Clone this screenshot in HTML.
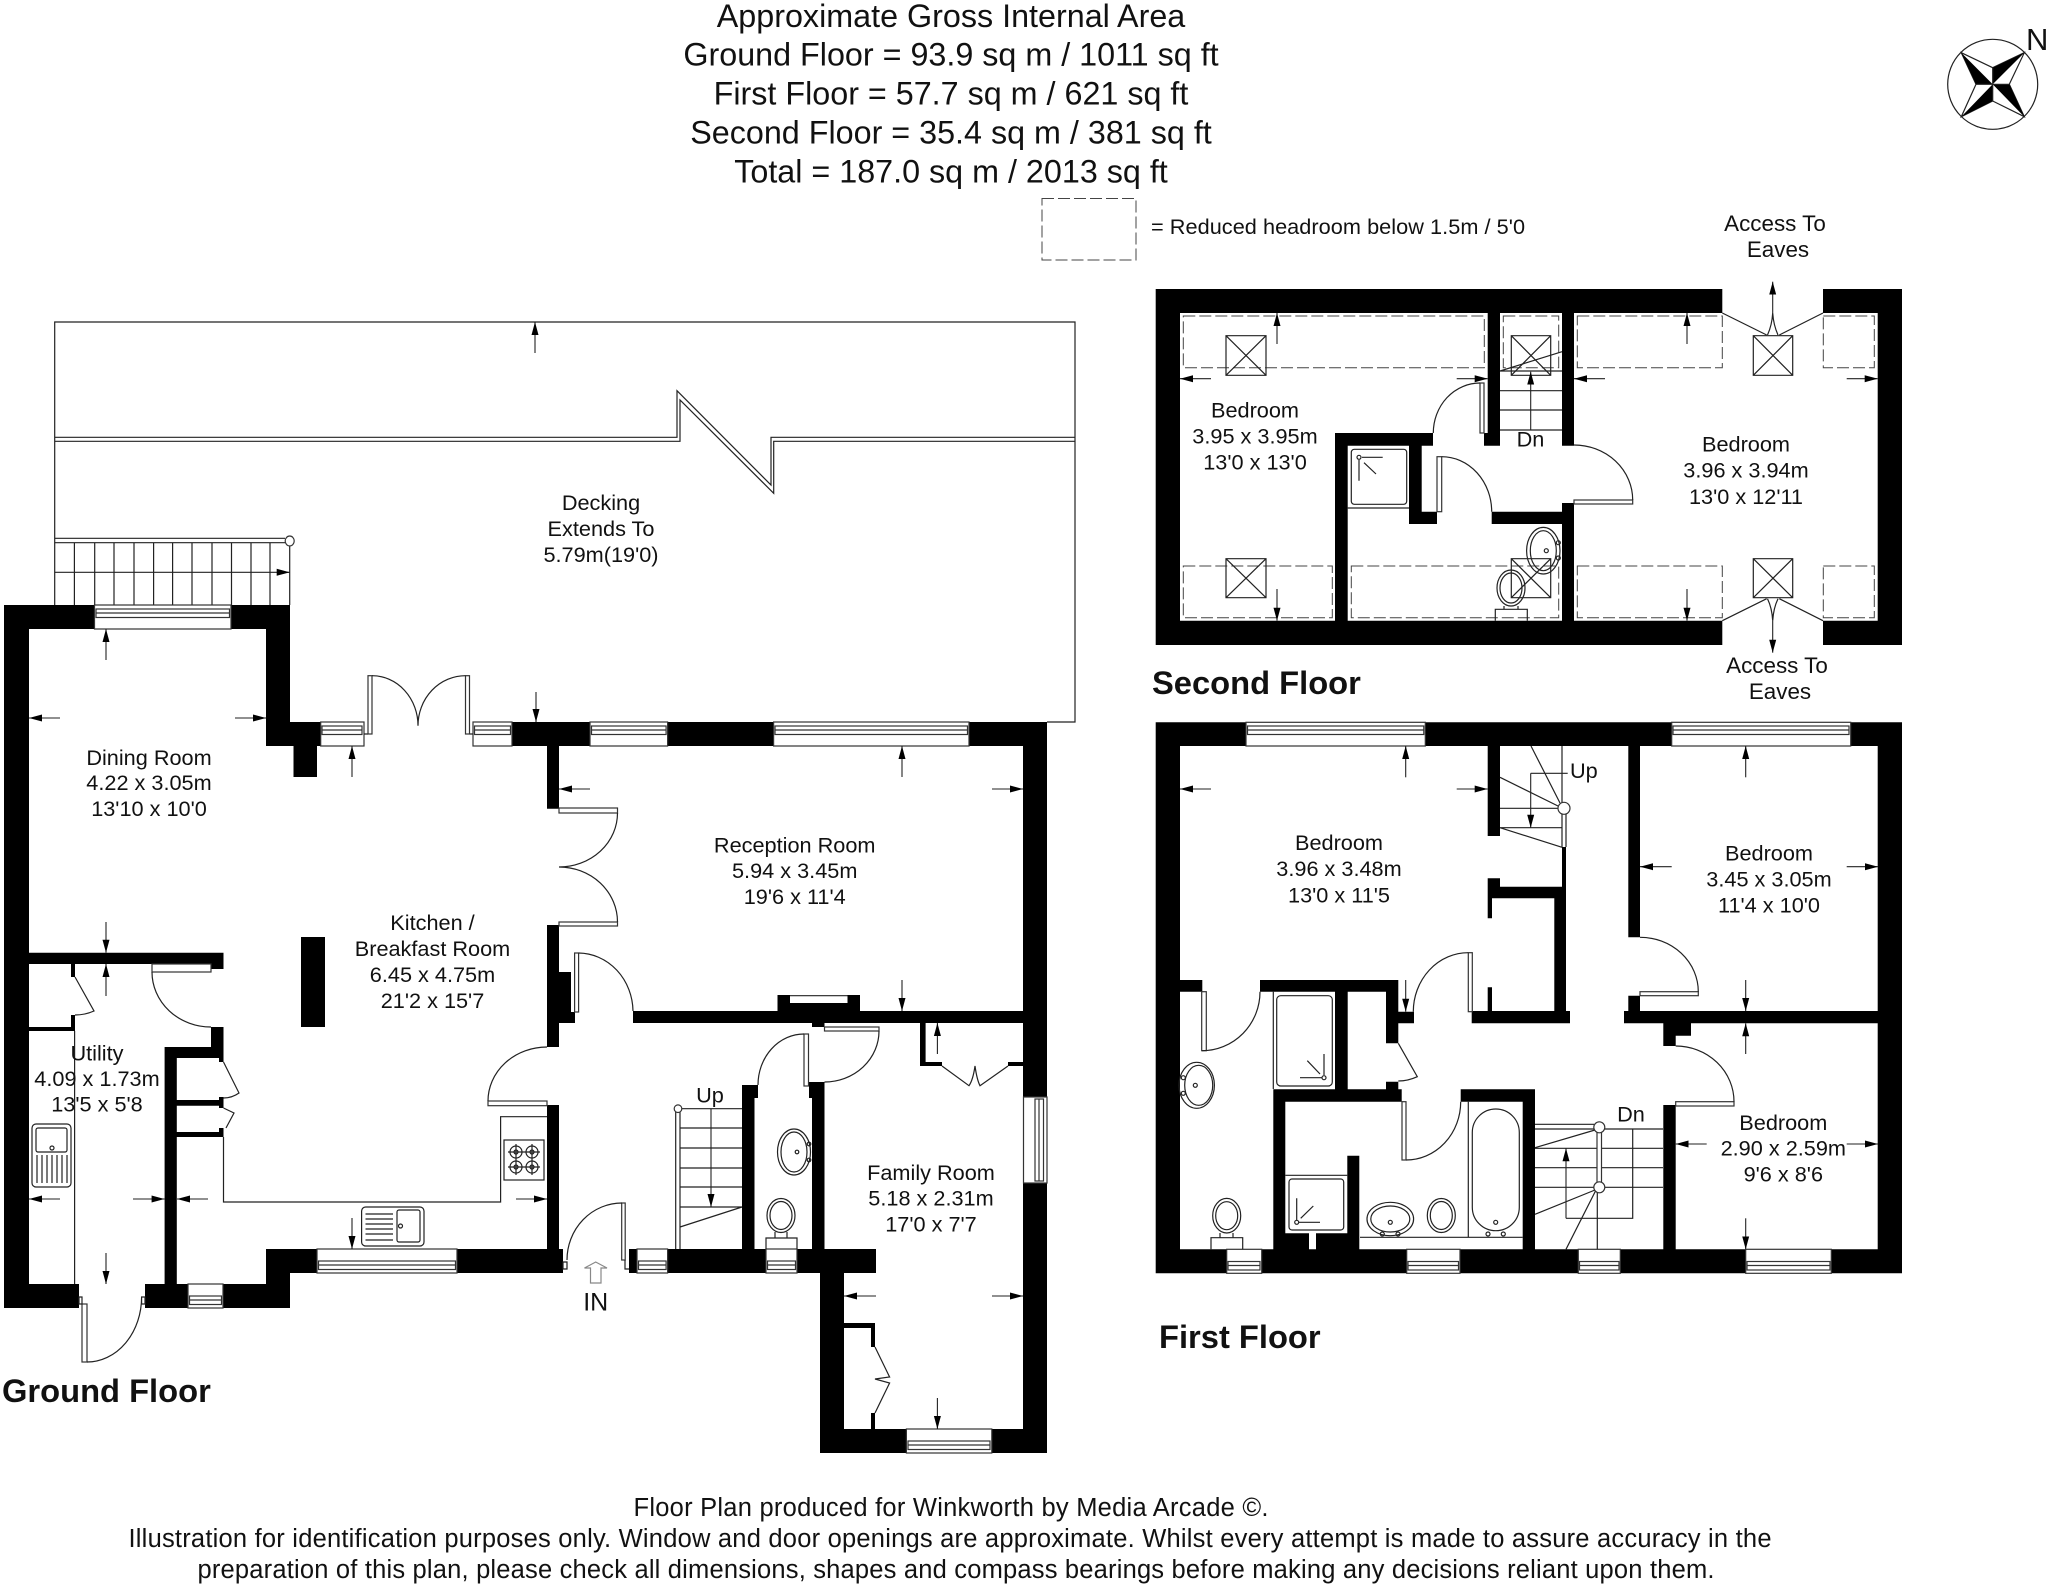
<!DOCTYPE html>
<html><head><meta charset="utf-8"><style>
html,body{margin:0;padding:0;background:#fff}
svg{display:block}
text{font-family:"Liberation Sans",sans-serif;fill:#111}
.t{font-size:21.7px;text-anchor:middle}
.x{font-size:22.4px;text-anchor:middle}
.h{font-size:32.3px;text-anchor:middle}
.b{font-size:32.7px;font-weight:bold}
.f{font-size:25.5px;text-anchor:middle}
.l{fill:none;stroke:#222;stroke-width:1.2}
.w{fill:#fff;stroke:#333;stroke-width:1.2}
.d{fill:none;stroke:#444;stroke-width:1;stroke-dasharray:12 4}
.a{stroke:#222;stroke-width:1.1;fill:none;marker-end:url(#m)}
</style></head><body>
<svg width="2048" height="1585" viewBox="0 0 2048 1585" xmlns="http://www.w3.org/2000/svg">
<defs><marker id="m" markerUnits="userSpaceOnUse" markerWidth="13" markerHeight="8" viewBox="0 0 13 8" refX="13" refY="4" orient="auto"><path d="M0 .5L13 4L0 7.500z" fill="#000"/></marker></defs>
<rect width="2048" height="1585" fill="#fff"/>

<!-- header -->
<text class="h" x="951" y="27">Approximate Gross Internal Area</text>
<text class="h" x="951" y="65.500">Ground Floor = 93.9 sq m / 1011 sq ft</text>
<text class="h" x="951" y="104.500">First Floor = 57.7 sq m / 621 sq ft</text>
<text class="h" x="951" y="143.500">Second Floor = 35.4 sq m / 381 sq ft</text>
<text class="h" x="951" y="182.500">Total = 187.0 sq m / 2013 sq ft</text>
<rect class="d" x="1042" y="198.500" width="94" height="61.500"/>
<text x="1151" y="234" style="font-size:21.7px" textLength="374">= Reduced headroom below 1.5m / 5'0</text>

<!-- compass -->
<circle class="l" cx="1992.700" cy="84.300" r="45"/>
<path class="l" d="M1961.300 52.700L1992.700 67.700L2024.300 52.700L2009.300 84.300L2024.300 116.700L1992.700 101L1961.300 116.700L1976 84.300z"/>
<path d="M1992.700 84.300L2024.300 52.700L1992.700 67.700zM1992.700 84.300L1961.300 52.700L1976 84.300zM1992.700 84.300L1961.300 116.700L1992.700 101zM1992.700 84.300L2024.300 116.700L2009.300 84.300z" fill="#000"/>
<path class="l" d="M1992.700 67.700V101M1976 84.300H2009.300"/>
<text x="2026" y="50" style="font-size:31px">N</text>

<!-- decking -->
<path class="l" d="M54.700 605V322H1075V722H1047"/>
<path class="l" d="M54.700 437.300H677V390.700L771 485V437.300H1075"/>
<path class="l" d="M54.700 441.300H680V400L773.700 493.300V441.300H1075"/>
<path class="l" d="M54.700 538.300H285M54.700 542.700H285M74.400 542.700V605M94.700 542.700V605M114 542.700V605M134 542.700V605M153.600 542.700V605M172.600 542.700V605M192 542.700V605M212 542.700V605M231.500 542.700V605M251 542.700V605M270 542.700V605M289.700 546V605"/>
<ellipse class="w" cx="289.700" cy="541" rx="4.500" ry="5"/>
<line class="a" x1="54.700" y1="572.300" x2="289.700" y2="572.300"/>
<line class="a" x1="535" y1="353" x2="535" y2="322"/>
<text class="t" x="601" y="510">Decking</text>
<text class="t" x="601" y="536">Extends To</text>
<text class="t" x="601" y="562">5.79m(19'0)</text>

<!-- ground floor walls -->
<path fill="#000" d="M4 605H29V1308H4zM4 605H290V629H4zM266 605H290V746H266zM266 722H320.700V746H266zM293.500 746H317V777H293.500zM473 722H1047V746H473zM547 746H559V808.700H547zM547 925H559V1047H547zM547 972H571V1012H547zM547 1012H575V1023H547zM1023 722H1047V1453H1023zM301 937H325V1027H301zM29 952.700H223.500V964H29zM211 964H223.500V969H211zM211 1027H223.500V1058H211zM164.600 1047H223.500V1058H164.600zM164.600 1047H176.800V1285H164.600zM176.800 1100H223.500V1105.700H176.800zM176.800 1132H223.500V1137H176.800zM219 1058H223.500V1062H219zM219 1097H223.500V1108H219zM219 1128H223.500V1132H219zM4 1284H79V1308H4zM145 1284H290V1308H145zM266 1249H290V1284H266zM266 1249H563V1273H266zM547 1105H559V1249H547zM633 1011H1023V1023H633zM777.500 995H790V1012H777.500zM847.500 995H860V1012H847.500zM790 1003H847.500V1012H790zM812 1023H824.500V1027H812zM809 1082H824.500V1098H809zM812 1098H824.500V1249H812zM742 1085H758V1098H742zM742 1098H754.500V1249H742zM629 1249H876V1273H629zM820 1273H844V1453H820zM820 1429H1047V1453H820zM920 1023H925.600V1066H920zM920 1062H942V1066H920zM1008 1062H1023V1066H1008zM844 1323H875V1328H844zM871 1323H875V1347H871zM871 1413H875V1429H871zM71 964H75V977H71zM71 1015H75V1028H71zM29 1027H75V1031H29z"/>
<path class="l" d="M790 995.700H847.500"/>
<!-- ground windows -->
<g class="w">
<rect x="94.500" y="605" width="136.500" height="24"/><rect x="96" y="609" width="133.500" height="8.500"/><path d="M96 613H229.500"/>
<rect x="320.700" y="722" width="43.300" height="24"/><rect x="322" y="726" width="40" height="8.500"/><path d="M322 730H362"/>
<rect x="473" y="722" width="39" height="24"/><rect x="474.500" y="726" width="36" height="8.500"/><path d="M474.500 730H510.500"/>
<rect x="590" y="722" width="77.600" height="24"/><rect x="591.500" y="726" width="74.600" height="8.500"/><path d="M591.500 730H666"/>
<rect x="773.600" y="722" width="195.400" height="24"/><rect x="775" y="726" width="192.500" height="8.500"/><path d="M775 730H967.500"/>
<rect x="188" y="1284" width="35" height="24"/><rect x="189.500" y="1296" width="32" height="8.500"/><path d="M189.500 1300H221.500"/>
<rect x="317" y="1249" width="140" height="24"/><rect x="318.500" y="1261" width="137" height="8.500"/><path d="M318.500 1265H455.500"/>
<rect x="637" y="1249" width="30.600" height="24"/><rect x="638.500" y="1261" width="27.600" height="8.500"/><path d="M638.500 1265H666"/>
<rect x="766" y="1249" width="31" height="24"/><rect x="767.500" y="1261" width="28" height="8.500"/><path d="M767.500 1265H795.500"/>
<rect x="906.400" y="1429" width="85.400" height="24"/><rect x="908" y="1441" width="82" height="8.500"/><path d="M908 1445H990"/>
<rect x="1023.500" y="1097" width="23.500" height="86"/><rect x="1035" y="1099" width="8.500" height="82"/><path d="M1039 1099V1181"/>
</g>
<!-- ground doors -->
<path class="l" d="M364 734H368M469.600 734H473"/>
<rect class="w" x="368" y="675.700" width="4" height="58.300"/>
<rect class="w" x="465.500" y="675.700" width="4" height="58.300"/>
<path class="l" d="M372 675.700A46 50 0 0 1 418 725.700M465.500 675.700A47.500 50 0 0 0 418 725.700"/>
<rect class="w" x="152" y="964" width="59" height="8"/>
<path class="l" d="M152 972A59 55 0 0 0 211 1027"/>
<path class="l" d="M75 977L94 1011Q85 1015 75 1015"/>
<path class="l" d="M223.500 1062L239 1093Q232 1098 223.500 1098M223.500 1108L234 1113L226 1128"/>
<rect class="w" x="488" y="1101" width="59" height="4.700"/>
<path class="l" d="M488 1101A59 54 0 0 1 547 1047"/>
<rect class="w" x="574.600" y="953" width="4" height="59"/>
<path class="l" d="M578.600 953A55 59 0 0 1 633 1011"/>
<rect class="w" x="559" y="808" width="58.500" height="5"/>
<rect class="w" x="559" y="922" width="58.500" height="4"/>
<path class="l" d="M617.500 813A58.500 54 0 0 1 559 867A58.500 55 0 0 1 617.500 922"/>
<rect class="w" x="824.500" y="1027" width="54.500" height="4"/>
<path class="l" d="M879 1031A54.500 51 0 0 1 824.500 1082"/>
<rect class="w" x="804" y="1034" width="4.500" height="52"/>
<path class="l" d="M804 1034A46 51 0 0 0 758 1085"/>
<path class="l" d="M942 1066L969 1085.700Q973 1080 975 1066Q977 1080 980 1085.700L1008 1066"/>
<path class="l" d="M875 1347L889.600 1377L875 1379L889.600 1383L875 1413"/>
<rect class="w" x="621.700" y="1203" width="3.500" height="57"/>
<path class="l" d="M622 1203A55 57 0 0 0 567 1260M625 1260V1269H629M563 1262H567V1269H563z"/>
<path fill="none" stroke="#888" stroke-width="1.200" d="M590.500 1283V1268H584.500L595.700 1262L607 1268H601V1283z"/>
<rect class="w" x="82" y="1304" width="5" height="58"/>
<path class="l" d="M79 1297H82V1304H79zM87 1362A54.600 65 0 0 0 141.600 1297M141.600 1297H145V1304H141.600z"/>
<!-- ground stairs -->
<path class="l" d="M675.700 1112V1249M680 1112V1249M680 1108.700H742M680 1128H742M680 1148H742M680 1168H742M680 1187H742M680 1207H742M680 1227L742 1207"/>
<circle class="w" cx="678" cy="1108.700" r="3.800"/>
<line class="a" x1="711" y1="1108.700" x2="711" y2="1207"/>
<!-- fittings ground -->
<path class="l" d="M74.600 1031V1284" stroke="#777"/>
<path class="l" d="M223.500 1137V1202H500.600V1116.700H547"/>
<rect class="l" x="504" y="1140" width="40" height="40"/>
<g class="l"><circle cx="516" cy="1152" r="6"/><circle cx="516" cy="1152" r="2"/><circle cx="532" cy="1152" r="6"/><circle cx="532" cy="1152" r="2"/><circle cx="516" cy="1167" r="6"/><circle cx="516" cy="1167" r="2"/><circle cx="532" cy="1167" r="6"/><circle cx="532" cy="1167" r="2"/><path d="M508 1152H540M508 1167H540M516 1144V1175M532 1144V1175"/></g>
<rect class="l" x="361.600" y="1207" width="62.400" height="39" rx="4"/>
<rect class="l" x="397" y="1210" width="23" height="32" rx="2"/>
<circle class="l" cx="400.500" cy="1226" r="2"/>
<path class="l" d="M365.500 1214H393M365.500 1219H393M365.500 1224H393M365.500 1229H393M365.500 1234H393M365.500 1240H393"/>
<rect class="l" x="32" y="1124" width="39" height="63" rx="4"/>
<rect class="l" x="36" y="1128" width="31" height="24" rx="2"/>
<circle class="l" cx="52" cy="1148" r="2"/>
<path class="l" d="M37 1155V1183M42 1155V1183M47 1155V1183M52 1155V1183M57 1155V1183M62 1155V1183M67 1155V1183"/>
<ellipse class="l" cx="794" cy="1152" rx="16.500" ry="23"/><ellipse class="l" cx="794" cy="1152" rx="13" ry="20"/>
<circle class="l" cx="797" cy="1152" r="1.800"/><circle class="l" cx="809" cy="1144" r="1.800"/><circle class="l" cx="809" cy="1160" r="1.800"/>
<ellipse class="l" cx="781" cy="1215.500" rx="14" ry="17"/><ellipse class="l" cx="781" cy="1215.500" rx="11" ry="14"/>
<path class="l" d="M766 1249V1238H797V1249M775 1232V1238M787 1232V1238"/>
<!-- ground arrows -->
<g>
<line class="a" x1="60" y1="718" x2="29" y2="718"/><line class="a" x1="235" y1="718" x2="266" y2="718"/>
<line class="a" x1="106" y1="660" x2="106" y2="629"/><line class="a" x1="106" y1="922" x2="106" y2="952.700"/>
<line class="a" x1="352" y1="777" x2="352" y2="746"/><line class="a" x1="536" y1="692" x2="536" y2="722"/>
<line class="a" x1="208" y1="1199" x2="177" y2="1199"/><line class="a" x1="516" y1="1199" x2="547" y2="1199"/>
<line class="a" x1="352" y1="1218" x2="352" y2="1249"/>
<line class="a" x1="590" y1="789" x2="559" y2="789"/><line class="a" x1="992" y1="789" x2="1023" y2="789"/>
<line class="a" x1="902" y1="777" x2="902" y2="746"/><line class="a" x1="902" y1="980" x2="902" y2="1011"/>
<line class="a" x1="60" y1="1199" x2="29" y2="1199"/><line class="a" x1="133" y1="1199" x2="164.600" y2="1199"/>
<line class="a" x1="106" y1="996" x2="106" y2="964"/><line class="a" x1="106" y1="1253" x2="106" y2="1284"/>
<line class="a" x1="876" y1="1296" x2="844" y2="1296"/><line class="a" x1="992" y1="1296" x2="1023" y2="1296"/>
<line class="a" x1="937.400" y1="1398" x2="937.400" y2="1429"/><line class="a" x1="937.400" y1="1054" x2="937.400" y2="1023"/>
</g>
<!-- ground labels -->
<text class="t" x="149" y="765">Dining Room</text><text class="t" x="149" y="790">4.22 x 3.05m</text><text class="t" x="149" y="816">13'10 x 10'0</text>
<text class="t" x="432.500" y="930">Kitchen /</text><text class="t" x="432.500" y="956">Breakfast Room</text><text class="t" x="432.500" y="982">6.45 x 4.75m</text><text class="t" x="432.500" y="1008">21'2 x 15'7</text>
<text class="t" x="97" y="1060.700">Utility</text><text class="t" x="97" y="1086">4.09 x 1.73m</text><text class="t" x="97" y="1111.700">13'5 x 5'8</text>
<text class="t" x="794.700" y="852.700">Reception Room</text><text class="t" x="794.700" y="878">5.94 x 3.45m</text><text class="t" x="794.700" y="904">19'6 x 11'4</text>
<text class="t" x="931" y="1180">Family Room</text><text class="t" x="931" y="1205.500">5.18 x 2.31m</text><text class="t" x="931" y="1231.700">17'0 x 7'7</text>
<text class="t" x="710" y="1102.700">Up</text>
<text x="595.700" y="1310.700" text-anchor="middle" style="font-size:25px">IN</text>
<text class="b" x="2" y="1402">Ground Floor</text>

<!-- second floor -->
<path fill="#000" d="M1155.700 289H1722.300V313H1155.700zM1823 289H1902V313H1823zM1155.700 289H1180V645H1155.700zM1155.700 620.700H1722.300V645H1155.700zM1823 620.700H1902V645H1823zM1877.700 289H1902V645H1877.700zM1487.700 313H1500V433H1487.700zM1484 433H1500V445.700H1484zM1562 313H1574V445.700H1562zM1562 503H1574V620.700H1562zM1335 433H1347.700V620.700H1335zM1335 433H1433V445.700H1335zM1409 445.700H1421.700V524H1409zM1409 511.700H1437V524H1409zM1491.700 511.700H1574V524H1491.700z"/>
<g class="d">
<rect x="1183.300" y="316" width="301" height="51.700"/><rect x="1503.300" y="316" width="55.400" height="51.700"/><rect x="1577.300" y="316" width="145" height="51.700"/><rect x="1823.300" y="316" width="51" height="51.700"/>
<rect x="1183.300" y="566" width="149" height="51.700"/><rect x="1351.300" y="566" width="207.400" height="51.700"/><rect x="1577.300" y="566" width="145" height="51.700"/><rect x="1823.300" y="566" width="51" height="51.700"/>
</g>
<g class="l">
<path d="M1226 335.700H1266V375.300H1226zM1226 335.700L1266 375.300M1266 335.700L1226 375.300"/>
<path d="M1511.300 335.700H1550.700V375.300H1511.300zM1511.300 335.700L1550.700 375.300M1550.700 335.700L1511.300 375.300"/>
<path d="M1226 558.700H1266V597.700H1226zM1226 558.700L1266 597.700M1266 558.700L1226 597.700"/>
<path d="M1511.300 558.700H1550.700V597.700H1511.300zM1511.300 558.700L1550.700 597.700M1550.700 558.700L1511.300 597.700"/>
<path d="M1753.300 335.700H1792.700V375.300H1753.300zM1753.300 335.700L1792.700 375.300M1792.700 335.700L1753.300 375.300"/>
<path d="M1753.300 558.700H1792.700V597.700H1753.300zM1753.300 558.700L1792.700 597.700M1792.700 558.700L1753.300 597.700"/>
<path d="M1722.300 313L1766.700 335M1823 313L1779.300 335M1767.500 335Q1772 325 1772.700 313Q1773.500 325 1778 335"/>
<path d="M1722.300 620.700L1766.700 598.700M1823 620.700L1779.300 598.700M1767.500 598.700Q1772 608 1772.700 620.700Q1773.500 608 1778 598.700"/>
</g>
<line class="a" x1="1772.700" y1="313" x2="1772.700" y2="281.700"/>
<line class="a" x1="1772.700" y1="620.700" x2="1772.700" y2="652.700"/>
<!-- second doors -->
<rect class="w" x="1480" y="383" width="4" height="50"/><path class="l" d="M1480 383A46.700 50 0 0 0 1433.300 433"/>
<rect class="w" x="1437" y="456.700" width="4.700" height="55"/><path class="l" d="M1441.700 456.700A50 55 0 0 1 1491.700 511.700"/>
<rect class="w" x="1574" y="500" width="58.700" height="4"/><path class="l" d="M1574 445A58.700 55 0 0 1 1632.700 500"/>
<!-- second stairs -->
<path class="l" d="M1500 371H1562M1500 390.700H1562M1500 410H1562M1500 430H1562M1500 371L1562 351.700"/>
<line class="a" x1="1530.700" y1="430" x2="1530.700" y2="371.700"/>
<!-- shower / bath second -->
<rect class="l" x="1351.300" y="449.300" width="55.400" height="55" rx="3"/>
<path class="l" d="M1347 508H1409M1362 457.300H1382.700M1359 460V480.700M1364 462.700L1376 474"/>
<circle class="l" cx="1359" cy="457.300" r="2"/>
<ellipse class="l" cx="1543.300" cy="550.700" rx="16.700" ry="23.300"/><ellipse class="l" cx="1543.300" cy="550.700" rx="13" ry="20"/>
<circle class="l" cx="1546.300" cy="550.700" r="2"/><circle class="l" cx="1558.300" cy="542.700" r="2"/><circle class="l" cx="1558.300" cy="558" r="2"/>
<ellipse class="l" cx="1511" cy="588" rx="14" ry="18"/><ellipse class="l" cx="1511" cy="588" rx="11" ry="15"/>
<path class="l" d="M1495.300 620.700V609.300H1527.300V620.700M1504 606V609.300M1518 606V609.300"/>
<!-- second arrows -->
<line class="a" x1="1211" y1="378.700" x2="1180" y2="378.700"/><line class="a" x1="1456.700" y1="378.700" x2="1487.700" y2="378.700"/>
<line class="a" x1="1277" y1="344" x2="1277" y2="313"/><line class="a" x1="1277" y1="589" x2="1277" y2="620.700"/>
<line class="a" x1="1605" y1="378.700" x2="1574" y2="378.700"/><line class="a" x1="1846.700" y1="378.700" x2="1877.700" y2="378.700"/>
<line class="a" x1="1687" y1="344" x2="1687" y2="313"/><line class="a" x1="1687" y1="589" x2="1687" y2="620.700"/>
<!-- second labels -->
<text class="t" x="1255" y="417.300">Bedroom</text><text class="t" x="1255" y="443.300">3.95 x 3.95m</text><text class="t" x="1255" y="469.300">13'0 x 13'0</text>
<text class="t" x="1746" y="451.700">Bedroom</text><text class="t" x="1746" y="477.300">3.96 x 3.94m</text><text class="t" x="1746" y="504">13'0 x 12'11</text>
<text class="t" x="1530.500" y="446.700">Dn</text>
<text class="x" x="1775" y="231">Access To</text><text class="x" x="1778" y="257">Eaves</text>
<text class="x" x="1777" y="673">Access To</text><text class="x" x="1780" y="699">Eaves</text>
<text class="b" x="1152" y="694">Second Floor</text>

<!-- first floor walls -->
<path fill="#000" d="M1155.700 722.300H1902V746H1155.700zM1155.700 722.300H1180V1273.300H1155.700zM1155.700 1249.300H1902V1273.300H1155.700zM1877.700 722.300H1902V1273.300H1877.700zM1487.700 746H1500V836H1487.700zM1628.300 746H1640V937.300H1628.300zM1628.300 995.700H1640V1011H1628.300zM1624 1011H1902V1023.300H1624zM1663.300 1023.300H1691V1035.700H1663.300zM1663.300 1023.300H1675.700V1046H1663.300zM1663.300 1105H1675.700V1249.300H1663.300zM1562 847H1566V886.700H1562zM1487.700 886.700H1566V898.300H1487.700zM1487.700 878.300H1500V886.700H1487.700zM1487.700 898H1492V918.300H1487.700zM1554.300 898H1566V1011.700H1554.300zM1471.700 1011H1570V1023.300H1471.700zM1487.700 987.300H1492V1011H1487.700zM1155.700 980H1202.300V991.700H1155.700zM1260 980H1398.300V991.700H1260zM1386 980H1398.300V1043.300H1386zM1386 1011.700H1414V1023.300H1386zM1386 1081.700H1398.300V1089.300H1386zM1335 991.700H1347.700V1089.300H1335zM1273.300 1089.300H1401.700V1101.700H1273.300zM1273.300 1089.300H1285.300V1249.300H1273.300zM1460.700 1089.300H1535V1101.700H1460.700zM1522.700 1089.300H1535V1249.300H1522.700zM1347.300 1155.700H1359.300V1249.300H1347.300zM1285 1233.300H1309V1249.300H1285zM1316 1233.300H1359.300V1249.300H1316z"/>
<!-- first windows -->
<g class="w">
<rect x="1246" y="722.300" width="179.300" height="23.700"/><rect x="1247.500" y="726" width="176.300" height="8.500"/><path d="M1247.500 730H1423.800"/>
<rect x="1671.700" y="722.300" width="179" height="23.700"/><rect x="1673" y="726" width="176" height="8.500"/><path d="M1673 730H1849"/>
<rect x="1226.700" y="1249.300" width="35" height="24"/><rect x="1228" y="1261.500" width="32" height="8.500"/><path d="M1228 1265.500H1260"/>
<rect x="1406.700" y="1249.300" width="53.300" height="24"/><rect x="1408" y="1261.500" width="50.500" height="8.500"/><path d="M1408 1265.500H1458.500"/>
<rect x="1578.300" y="1249.300" width="42" height="24"/><rect x="1579.500" y="1261.500" width="39.500" height="8.500"/><path d="M1579.500 1265.500H1619"/>
<rect x="1745.700" y="1249.300" width="85.600" height="24"/><rect x="1747" y="1261.500" width="83" height="8.500"/><path d="M1747 1265.500H1830"/>
</g>
<!-- first doors -->
<rect class="w" x="1640" y="991.700" width="58.300" height="4"/><path class="l" d="M1640 937.300A58.300 54.400 0 0 1 1698.300 991.700"/>
<rect class="w" x="1675.700" y="1101.700" width="58.300" height="4.300"/><path class="l" d="M1675.700 1046A58.300 55.700 0 0 1 1734 1101.700"/>
<rect class="w" x="1468.300" y="952.700" width="4" height="59"/><path class="l" d="M1468.300 952.700A55 59 0 0 0 1413.300 1011.700"/>
<rect class="w" x="1201.700" y="991.700" width="4.600" height="59"/><path class="l" d="M1202 1050.700A58 59 0 0 0 1260 991.700"/>
<path class="l" d="M1398.300 1043.300L1417.300 1076.700Q1408 1081 1398.300 1081"/>
<rect class="w" x="1402" y="1101.700" width="4" height="58.300"/><path class="l" d="M1406 1160A54.700 58.300 0 0 0 1460.700 1101.700"/>
<!-- first stairs up -->
<path class="l" d="M1562 746V847M1566 814V847M1531 746L1560 803M1500 777.300L1558 806M1500 808.300H1558M1500 827.700H1562M1500 827.700L1562 847.300"/>
<circle class="w" cx="1564" cy="808.300" r="6"/>
<path class="l" d="M1567.700 773.300H1530.700"/>
<line class="a" x1="1530.700" y1="773.300" x2="1530.700" y2="827.700"/>
<!-- first stairs dn -->
<path class="l" d="M1535 1124.300H1594M1535 1129H1594M1604 1129H1663M1535 1148.300H1663M1535 1167.700H1663M1535 1187.300H1663M1535 1147.700L1595 1130M1535 1214.300L1595 1190M1566 1249.300L1596 1190M1597.300 1190V1249.300"/>
<rect class="w" x="1597" y="1128" width="4.500" height="60"/>
<circle class="w" cx="1599.300" cy="1127.300" r="5.500"/><circle class="w" cx="1599.300" cy="1187.300" r="5.500"/>
<path class="l" d="M1632.700 1129V1218.300H1566"/>
<line class="a" x1="1566" y1="1218.300" x2="1566" y2="1148.300"/>
<!-- first fittings -->
<path class="l" d="M1273.300 991.700V1089"/>
<rect class="l" x="1276.700" y="995.700" width="55.600" height="90.300" rx="4"/>
<circle class="l" cx="1324" cy="1077.700" r="2"/><path class="l" d="M1300 1077.700H1322M1324 1054V1075M1307.300 1060.700L1320 1074"/>
<path class="l" d="M1468.300 1101.700V1237.300M1360 1237.300H1522.700M1285.300 1175.300H1347.300"/>
<rect class="l" x="1472.300" y="1109" width="47" height="121.700" rx="23.500"/>
<circle class="l" cx="1495.700" cy="1222.300" r="2"/><circle class="l" cx="1488" cy="1234" r="2"/><circle class="l" cx="1503.300" cy="1234" r="2"/>
<ellipse class="l" cx="1390.300" cy="1219" rx="23.300" ry="16.700"/><ellipse class="l" cx="1390.300" cy="1219" rx="19.500" ry="13"/>
<circle class="l" cx="1390.300" cy="1222.300" r="2"/><circle class="l" cx="1382.300" cy="1234" r="2"/><circle class="l" cx="1398" cy="1234" r="2"/>
<ellipse class="l" cx="1441.300" cy="1215.500" rx="14" ry="17"/><ellipse class="l" cx="1441.300" cy="1215.500" rx="11" ry="14"/>
<rect class="l" x="1289" y="1179" width="54.700" height="51" rx="3"/>
<circle class="l" cx="1296.700" cy="1222.300" r="2"/><path class="l" d="M1296.700 1198.300V1220M1299 1222.300H1320M1300.700 1218.300L1313.300 1206"/>
<ellipse class="l" cx="1226.700" cy="1215.700" rx="14" ry="17.300"/><ellipse class="l" cx="1226.700" cy="1215.700" rx="11" ry="14"/>
<path class="l" d="M1211 1249.300V1237.700H1242.700V1249.300M1220 1233V1237.700M1233 1233V1237.700"/>
<ellipse class="l" cx="1196.700" cy="1085.300" rx="17.700" ry="23"/><ellipse class="l" cx="1198.700" cy="1085.300" rx="14" ry="20"/>
<circle class="l" cx="1183.300" cy="1077.700" r="2"/><circle class="l" cx="1183.300" cy="1093.300" r="2"/><circle class="l" cx="1195.300" cy="1085.300" r="2"/>
<!-- first arrows -->
<line class="a" x1="1211" y1="789" x2="1180" y2="789"/><line class="a" x1="1456.700" y1="789" x2="1487.700" y2="789"/>
<line class="a" x1="1405.700" y1="777.300" x2="1405.700" y2="746"/><line class="a" x1="1405.700" y1="980" x2="1405.700" y2="1011.700"/>
<line class="a" x1="1671.700" y1="866.700" x2="1640" y2="866.700"/><line class="a" x1="1846.700" y1="866.700" x2="1878" y2="866.700"/>
<line class="a" x1="1745.700" y1="777.300" x2="1745.700" y2="746"/><line class="a" x1="1745.700" y1="980" x2="1745.700" y2="1011"/>
<line class="a" x1="1745.700" y1="1054" x2="1745.700" y2="1023.300"/><line class="a" x1="1745.700" y1="1218.300" x2="1745.700" y2="1249.300"/>
<line class="a" x1="1706.700" y1="1144" x2="1675.700" y2="1144"/><line class="a" x1="1846.700" y1="1144" x2="1878" y2="1144"/>
<!-- first labels -->
<text class="t" x="1339" y="850">Bedroom</text><text class="t" x="1339" y="876">3.96 x 3.48m</text><text class="t" x="1339" y="902.300">13'0 x 11'5</text>
<text class="t" x="1769" y="860.700">Bedroom</text><text class="t" x="1769" y="886.700">3.45 x 3.05m</text><text class="t" x="1769" y="912.700">11'4 x 10'0</text>
<text class="t" x="1783.300" y="1130">Bedroom</text><text class="t" x="1783.300" y="1155.700">2.90 x 2.59m</text><text class="t" x="1783.300" y="1181.700">9'6 x 8'6</text>
<text x="1570" y="778" style="font-size:21.7px">Up</text>
<text class="t" x="1631" y="1121.700">Dn</text>
<text class="b" x="1159" y="1348">First Floor</text>

<!-- footer -->
<text class="f" x="951" y="1516" textLength="635">Floor Plan produced for Winkworth by Media Arcade ©.</text>
<text class="f" x="950" y="1547" textLength="1643">Illustration for identification purposes only. Window and door openings are approximate. Whilst every attempt is made to assure accuracy in the</text>
<text class="f" x="956" y="1578" textLength="1517">preparation of this plan, please check all dimensions, shapes and compass bearings before making any decisions reliant upon them.</text>
</svg>
</body></html>
